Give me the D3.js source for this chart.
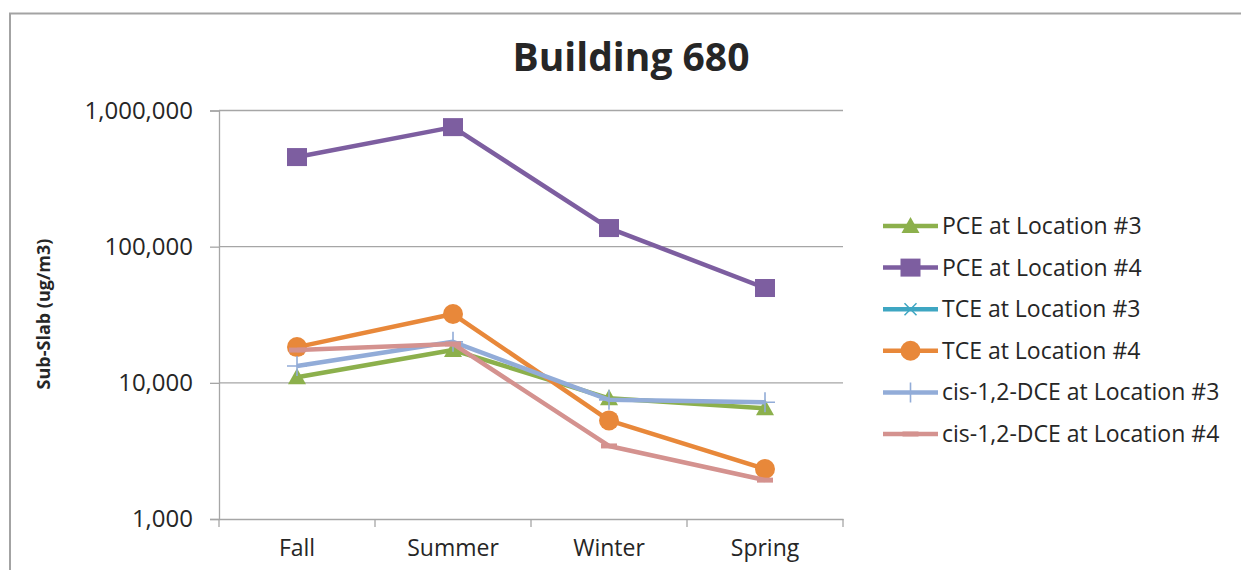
<!DOCTYPE html>
<html>
<head>
<meta charset="utf-8">
<script src="https://cdn.jsdelivr.net/npm/d3@7"></script>
<style>
  body { margin: 0; background: #fff; }
  svg text { font-family: "Open Sans", Lato, sans-serif; fill: #262626; }
</style>
</head>
<body>
<div id="chart"></div>
<script>
// Chart values
const seasons = ["Fall", "Summer", "Winter", "Spring"];
const yTicks = [1000, 10000, 100000, 1000000];

const pce3 = [11000, 17400, 7700, 6500];
const pce4 = [455000, 755000, 137000, 49700];
const tce3 = [null, null, null, null]; // in legend only, no points plotted
const tce4 = [18300, 32000, 5300, 2330];
const dce3 = [13300, 20000, 7500, 7200];
const dce4 = [17400, 19300, 3440, 1930];

const seriesNames = [
  "PCE at Location #3",
  "PCE at Location #4",
  "TCE at Location #3",
  "TCE at Location #4",
  "cis-1,2-DCE at Location #3",
  "cis-1,2-DCE at Location #4"
];
const seriesValues = [pce3, pce4, tce3, tce4, dce3, dce4];
const seriesColors = ["#8cb04c", "#7d5ea0", "#3ea6c2", "#e8883a", "#92acd8", "#d4928f"];
const seriesMarkers = ["triangle", "square", "star", "circle", "plus", "dash"];

const series = seriesNames.map((name, i) => ({
  name: name,
  values: seriesValues[i],
  color: seriesColors[i],
  marker: seriesMarkers[i]
}));

// Dimensions
const width = 1241;
const height = 570;
const plot = { left: 219, right: 843, top: 110.5, bottom: 519 };

const svg = d3
  .select("#chart")
  .append("svg")
  .attr("width", width)
  .attr("height", height);

// Outer chart frame (cut off at right and bottom)
svg
  .append("rect")
  .attr("x", 10)
  .attr("y", 13.5)
  .attr("width", 1400)
  .attr("height", 800)
  .attr("fill", "none")
  .attr("stroke", "#a3a3a3")
  .attr("stroke-width", 2);

// Scales
const x = d3
  .scaleBand()
  .domain(seasons)
  .range([plot.left, plot.right])
  .padding(0);

const y = d3
  .scaleLog()
  .domain([1000, 1000000])
  .range([plot.bottom, plot.top]);

const cx = (s) => x(s) + x.bandwidth() / 2;

// Gridlines
svg
  .append("g")
  .selectAll("line")
  .data(yTicks.slice(1))
  .enter()
  .append("line")
  .attr("x1", plot.left)
  .attr("x2", plot.right)
  .attr("y1", (d) => y(d))
  .attr("y2", (d) => y(d))
  .attr("stroke", "#a6a6a6")
  .attr("stroke-width", 1.3);

// Y axis
const yAxis = svg
  .append("g")
  .attr("transform", `translate(${plot.left},0)`)
  .call(
    d3
      .axisLeft(y)
      .tickValues(yTicks)
      .tickFormat(d3.format(","))
      .tickSize(9)
      .tickPadding(17)
  );
yAxis.select(".domain").attr("stroke", "#a6a6a6").attr("stroke-width", 1.3);
yAxis.selectAll(".tick line").attr("stroke", "#a6a6a6").attr("stroke-width", 1.3);
yAxis
  .selectAll(".tick text")
  .style("font-size", "24px")
  .attr("fill", "#262626");

// X axis
const xAxis = svg
  .append("g")
  .attr("transform", `translate(0,${plot.bottom})`)
  .call(d3.axisBottom(x).tickSize(0).tickPadding(21));
xAxis.select(".domain").attr("stroke", "#a6a6a6").attr("stroke-width", 1.3);
xAxis.selectAll(".tick text").style("font-size", "23px").attr("fill", "#262626");

// Category boundary ticks
xAxis
  .selectAll("line.bound")
  .data(d3.range(seasons.length + 1))
  .enter()
  .append("line")
  .attr("class", "bound")
  .attr("x1", (i) => plot.left + i * x.step())
  .attr("x2", (i) => plot.left + i * x.step())
  .attr("y1", 0)
  .attr("y2", 8)
  .attr("stroke", "#a6a6a6")
  .attr("stroke-width", 1.3);

// Title
svg
  .append("text")
  .attr("x", 631)
  .attr("y", 71)
  .attr("text-anchor", "middle")
  .style("font-size", "39px")
  .style("font-weight", "bold")
  .attr("fill", "#000")
  .text("Building 680");

// Y axis title
svg
  .append("text")
  .attr("transform", "translate(50,314) rotate(-90)")
  .attr("text-anchor", "middle")
  .style("font-size", "18px")
  .style("font-weight", "bold")
  .attr("fill", "#000")
  .text("Sub-Slab (ug/m3)");

// Marker drawing
function drawMarker(g, type, color, px, py) {
  if (type === "triangle") {
    g.append("path")
      .attr("d", `M${px},${py - 9}L${px + 9},${py + 7}L${px - 9},${py + 7}Z`)
      .attr("fill", color);
  } else if (type === "square") {
    g.append("rect")
      .attr("x", px - 10)
      .attr("y", py - 9)
      .attr("width", 20)
      .attr("height", 18)
      .attr("fill", color);
  } else if (type === "circle") {
    g.append("circle")
      .attr("cx", px)
      .attr("cy", py)
      .attr("r", 10)
      .attr("fill", color);
  } else if (type === "plus") {
    g.append("path")
      .attr("d", `M${px - 10},${py}H${px + 10}M${px},${py - 10}V${py + 10}`)
      .attr("stroke", color)
      .attr("stroke-width", 1.6);
  } else if (type === "star") {
    g.append("path")
      .attr(
        "d",
        `M${px - 9},${py}H${px + 9}M${px - 6},${py - 6}L${px + 6},${py + 6}M${px - 6},${py + 6}L${px + 6},${py - 6}`
      )
      .attr("stroke", color)
      .attr("stroke-width", 1.5);
  } else if (type === "dash") {
    g.append("path")
      .attr("d", `M${px - 8},${py}H${px + 8}`)
      .attr("stroke", color)
      .attr("stroke-width", 5);
  }
}

// Lines and markers
const line = d3
  .line()
  .defined((d) => d.v !== null)
  .x((d) => cx(d.s))
  .y((d) => y(d.v));

series.forEach((s) => {
  const pts = seasons.map((season, j) => ({ s: season, v: s.values[j] }));
  const g = svg.append("g").attr("class", "series");
  g.append("path")
    .datum(pts)
    .attr("d", line)
    .attr("fill", "none")
    .attr("stroke", s.color)
    .attr("stroke-width", 4.5)
    .attr("stroke-linejoin", "round");
  pts
    .filter((d) => d.v !== null)
    .forEach((d) => drawMarker(g, s.marker, s.color, cx(d.s), y(d.v)));
});

// Legend
const legend = svg.append("g").attr("transform", "translate(883,226)");
series.forEach((s, i) => {
  const g = legend.append("g").attr("transform", `translate(0,${i * 41.6})`);
  g.append("line")
    .attr("x1", 0)
    .attr("x2", 55)
    .attr("y1", 0)
    .attr("y2", 0)
    .attr("stroke", s.color)
    .attr("stroke-width", 4.5);
  drawMarker(g, s.marker, s.color, 27.5, 0);
  g.append("text")
    .attr("x", 59)
    .attr("y", 0)
    .attr("dy", "0.35em")
    .style("font-size", "23px")
    .text(s.name);
});
</script>
</body>
</html>
